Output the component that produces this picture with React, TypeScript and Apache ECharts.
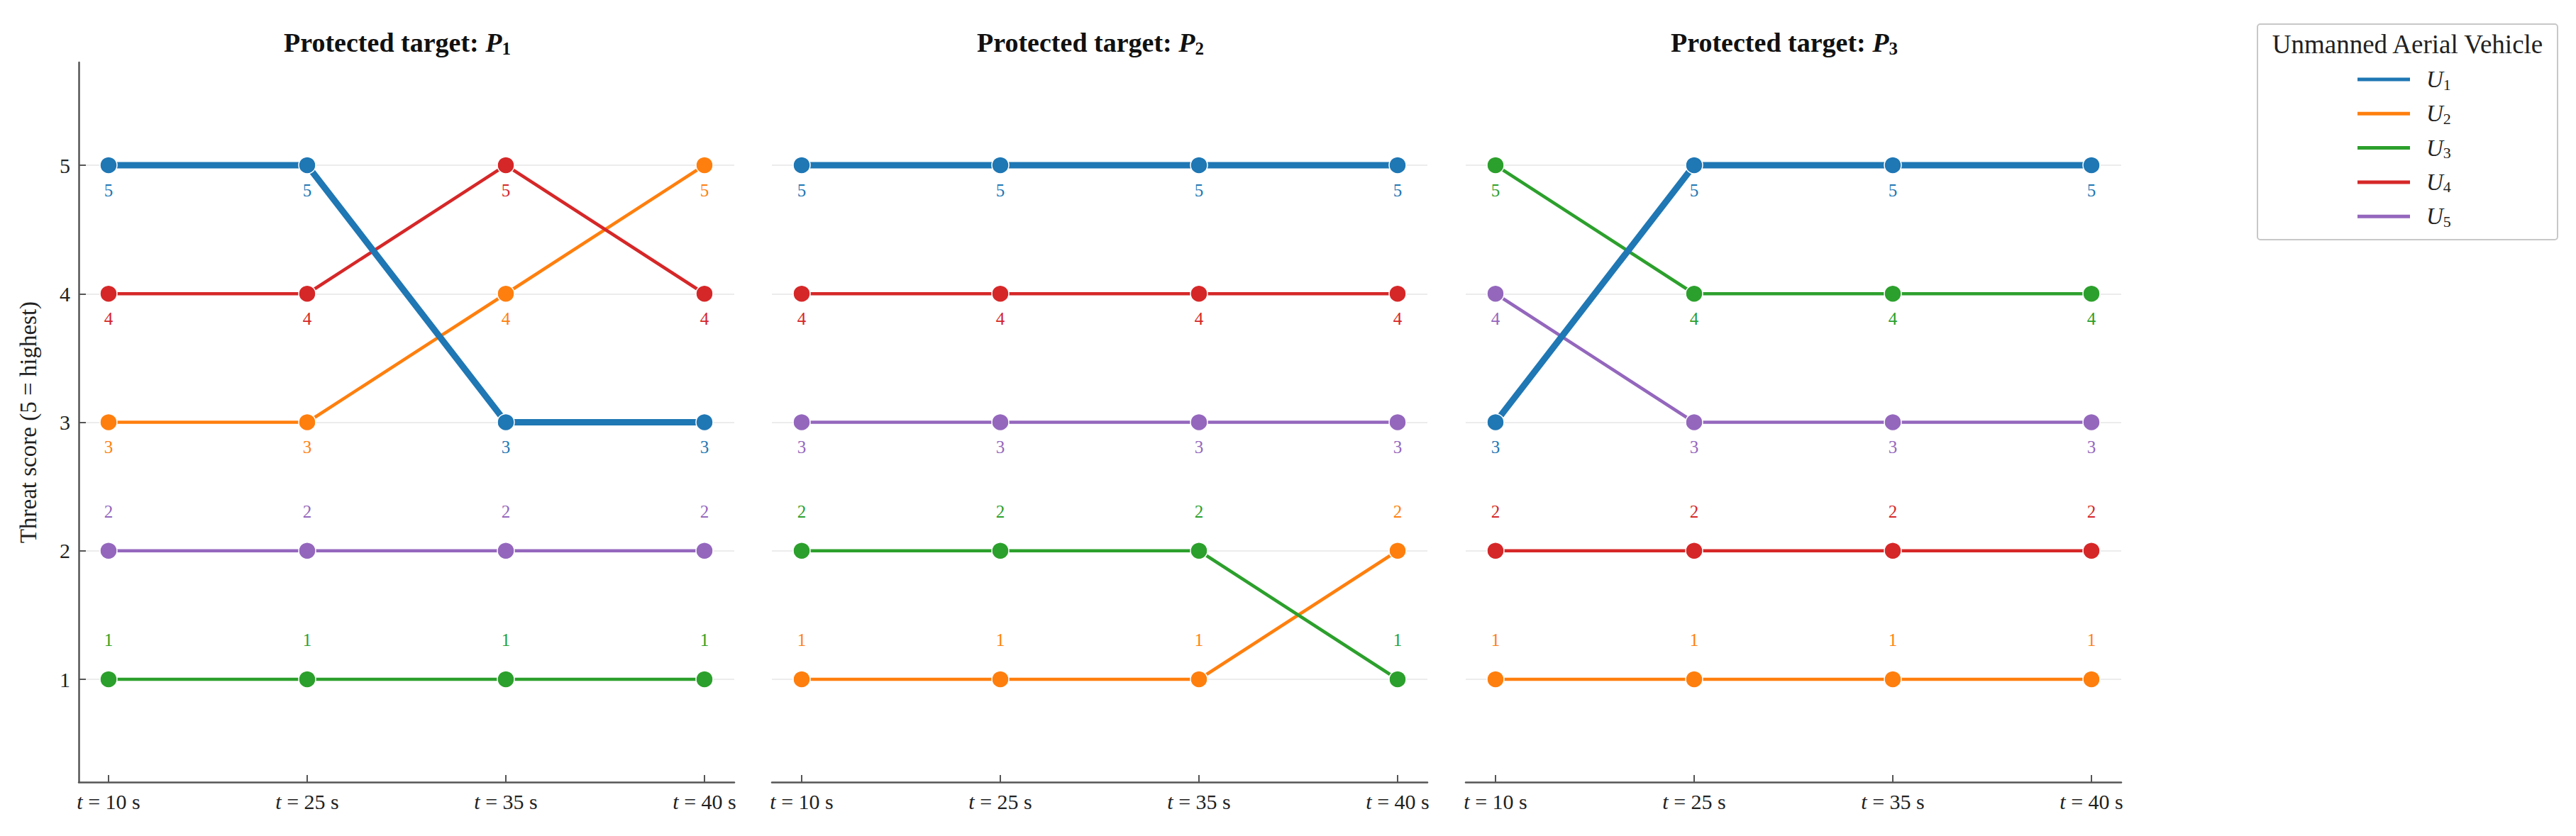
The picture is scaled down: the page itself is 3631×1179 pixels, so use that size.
import React, { useEffect, useRef } from 'react';
import * as echarts from 'echarts';

// ---------- data ----------
const timeLabels = ['10', '25', '35', '40'];
const uavIds = ['1', '2', '3', '4', '5'];
const uavColors = ['#1f77b4', '#ff7f0e', '#2ca02c', '#d62728', '#9467bd'];
const targetIds = ['1', '2', '3'];
// scores per UAV (U1..U5) at t = 10, 25, 35, 40 s
const p1Scores = [
  [5, 5, 3, 3],
  [3, 3, 4, 5],
  [1, 1, 1, 1],
  [4, 4, 5, 4],
  [2, 2, 2, 2],
];
const p2Scores = [
  [5, 5, 5, 5],
  [1, 1, 1, 2],
  [2, 2, 2, 1],
  [4, 4, 4, 4],
  [3, 3, 3, 3],
];
const p3Scores = [
  [3, 5, 5, 5],
  [1, 1, 1, 1],
  [5, 4, 4, 4],
  [2, 2, 2, 2],
  [4, 3, 3, 3],
];
const yTicks = [1, 2, 3, 4, 5];
const xTicks = [0, 1, 2, 3];
const panels = [p1Scores, p2Scores, p3Scores];

const FONT = 'Liberation Serif';
const AXIS_COLOR = '#555';

export default function App() {
  const ref = useRef<HTMLDivElement>(null);
  useEffect(() => {
    if (!ref.current) return;
    const chart = echarts.init(ref.current, undefined, { renderer: 'svg' });

    const gridLefts = [111, 1088, 2066];
    const gridWidth = 924;
    const gridTop = 88;
    const gridHeight = 1015;

    const grids = gridLefts.map((l) => ({ left: l, top: gridTop, width: gridWidth, height: gridHeight }));

    const xAxes = panels.map((_, pi) => ({
      type: 'value',
      gridIndex: pi,
      min: -0.15,
      max: 3.15,
      axisLine: { show: true, onZero: false, lineStyle: { color: AXIS_COLOR, width: 2.5 } },
      axisTick: { show: true, inside: true, length: 10, customValues: xTicks, lineStyle: { color: AXIS_COLOR, width: 2 } },
      splitLine: { show: false },
      axisLabel: {
        show: true,
        customValues: xTicks,
        margin: 12,
        formatter: (v: number) => `{i|t} = ${timeLabels[Math.round(v)]} s`,
        color: '#222',
        fontFamily: FONT,
        fontSize: 30,
        rich: {
          i: { fontFamily: FONT, fontSize: 30, fontStyle: 'italic', color: '#222' },
        },
      },
    }));

    const yAxes = panels.map((_, pi) => ({
      type: 'value',
      gridIndex: pi,
      min: 0.2,
      max: 5.8,
      name: pi === 0 ? 'Threat score (5 = highest)' : '',
      nameLocation: 'middle',
      nameGap: 55,
      nameTextStyle: { fontFamily: FONT, fontSize: 33, color: '#222' },
      axisLine: { show: pi === 0, onZero: false, lineStyle: { color: AXIS_COLOR, width: 2.5 } },
      axisTick: { show: pi === 0, inside: true, length: 10, customValues: yTicks, lineStyle: { color: AXIS_COLOR, width: 2 } },
      axisLabel: {
        show: pi === 0,
        customValues: yTicks,
        margin: 12,
        color: '#222',
        fontFamily: FONT,
        fontSize: 30,
      },
      splitLine: { show: true, lineStyle: { color: '#ececec', width: 2 } },
    }));

    const series: any[] = [];
    panels.forEach((scores, pi) => {
      scores.forEach((vals, ui) => {
        const color = uavColors[ui];
        series.push({
          type: 'line',
          name: 'U' + uavIds[ui],
          xAxisIndex: pi,
          yAxisIndex: pi,
          z: ui === 0 ? 4 : 3,
          symbol: 'circle',
          symbolSize: 24,
          lineStyle: { color, width: ui === 0 ? 9 : 4.5 },
          itemStyle: { color, borderColor: '#fff', borderWidth: 1.5 },
          data: vals.map((v, ti) => ({
            value: [ti, v],
            label: {
              show: true,
              position: v >= 3 ? 'bottom' : 'top',
              distance: v >= 3 ? 10 : 30,
              formatter: String(v),
              color,
              fontFamily: FONT,
              fontSize: 25,
            },
          })),
        });
      });
    });

    const titles = targetIds.map((k, pi) => ({
      text: `Protected target: {p|P}{s|${k}}`,
      left: gridLefts[pi] + gridWidth / 2 - 18,
      top: 33,
      textAlign: 'center',
      textStyle: {
        fontFamily: FONT,
        fontWeight: 'bold',
        fontSize: 38,
        color: '#111',
        rich: {
          p: { fontFamily: FONT, fontSize: 38, fontStyle: 'italic', color: '#111' },
          s: { fontFamily: FONT, fontSize: 25, color: '#111', padding: [18, 0, 0, 0] },
        },
      },
    }));

    // legend drawn as graphic
    const legendX = 3182;
    const legendY = 34;
    const legendW = 423;
    const legendH = 304;
    const rowY0 = 112;
    const rowStep = 48.3;
    const legendChildren: any[] = [
      {
        type: 'rect',
        shape: { x: legendX, y: legendY, width: legendW, height: legendH, r: 4 },
        style: { fill: '#fff', stroke: '#c8c8c8', lineWidth: 2 },
      },
      {
        type: 'text',
        x: legendX + legendW / 2,
        y: 62,
        style: {
          text: 'Unmanned Aerial Vehicle',
          fontFamily: FONT,
          fontSize: 37,
          fill: '#222',
          align: 'center',
          verticalAlign: 'middle',
        },
      },
    ];
    uavIds.forEach((id, i) => {
      const y = rowY0 + i * rowStep;
      legendChildren.push({
        type: 'line',
        shape: { x1: 3323, y1: y, x2: 3397, y2: y },
        style: { stroke: uavColors[i], lineWidth: 5 },
      });
      legendChildren.push({
        type: 'text',
        x: 3420,
        y,
        style: {
          text: `{u|U}{s|${id}}`,
          verticalAlign: 'middle',
          align: 'left',
          rich: {
            u: { fontFamily: FONT, fontSize: 33, fontStyle: 'italic', fill: '#222', color: '#222' },
            s: { fontFamily: FONT, fontSize: 22, fill: '#222', color: '#222', padding: [14, 0, 0, 0] },
          },
        },
      });
    });

    chart.setOption({
      animation: false,
      backgroundColor: '#fff',
      title: titles,
      grid: grids,
      xAxis: xAxes,
      yAxis: yAxes,
      series,
      graphic: [{ type: 'group', children: legendChildren }],
    });

    return () => chart.dispose();
  }, []);

  return (
    <div
      ref={ref}
      style={{ position: 'absolute', left: 0, top: 0, width: 3631, height: 1179 }}
    />
  );
}
